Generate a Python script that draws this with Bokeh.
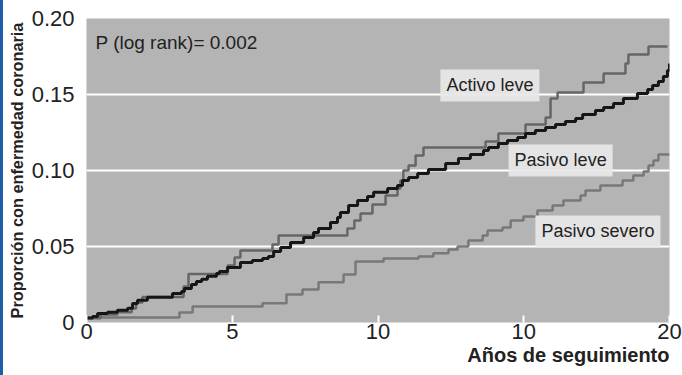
from bokeh.plotting import figure
from bokeh.models import Range1d, FixedTicker, Label, Title, Div
from bokeh.layouts import row
from bokeh.embed import file_html
from bokeh.resources import INLINE

# ---- data ----
x_ticks = [0, 5, 10, 15, 20]
x_tick_labels = ["0", "5", "10", "10", "20"]
y_ticks = [0, 0.05, 0.10, 0.15, 0.20]
y_tick_labels = ["0", "0.05", "0.10", "0.15", "0.20"]

t_activo_leve = [0, 0.48, 1.06, 1.55, 1.70, 1.92, 3.33, 3.50, 4.84, 5.08,
                 5.28, 6.38, 6.59, 8.95, 9.19, 9.40, 9.81, 10.26, 10.67, 10.77,
                 10.87, 11.05, 11.29, 11.56, 13.69, 14.13, 15.06, 15.75, 15.92, 16.16,
                 17.05, 17.74, 18.49, 18.59, 19.28, 19.93]
p_activo_leve = [0.0028, 0.0053, 0.0068, 0.0092, 0.0132, 0.0168, 0.0237, 0.0319, 0.0375, 0.0428,
                 0.0474, 0.0513, 0.0572, 0.0618, 0.0671, 0.0717, 0.0776, 0.0836, 0.0882, 0.0934,
                 0.1000, 0.1033, 0.1099, 0.1151, 0.1191, 0.1243, 0.1303, 0.1349, 0.1474, 0.1513,
                 0.1579, 0.1638, 0.1704, 0.1763, 0.1816, 0.1816]

t_pasivo_leve = [0, 0.21, 0.38, 0.72, 1.06, 1.41, 1.58, 1.75, 2.09, 2.95,
                 3.26, 3.36, 3.60, 3.77, 3.95, 4.15, 4.46, 4.56, 4.84, 5.28,
                 5.69, 6.04, 6.24, 6.42, 6.66, 7.00, 7.45, 7.79, 7.96, 8.37,
                 8.61, 8.71, 8.99, 9.30, 9.64, 9.85, 10.33, 10.67, 10.84, 11.05,
                 11.36, 11.73, 12.32, 12.76, 13.17, 13.62, 13.79, 14.13, 14.44, 14.79,
                 15.06, 15.40, 15.75, 16.09, 16.43, 16.78, 17.02, 17.46, 17.74, 18.08,
                 18.42, 18.90, 19.25, 19.42, 19.62, 19.79, 19.93, 20.0]
p_pasivo_leve = [0.0030, 0.0039, 0.0059, 0.0068, 0.0081, 0.0094, 0.0125, 0.0147, 0.0166, 0.0191,
                 0.0204, 0.0224, 0.0250, 0.0270, 0.0285, 0.0305, 0.0322, 0.0336, 0.0362, 0.0395,
                 0.0408, 0.0421, 0.0434, 0.0467, 0.0493, 0.0526, 0.0559, 0.0592, 0.0618, 0.0658,
                 0.0691, 0.0724, 0.0770, 0.0803, 0.0829, 0.0857, 0.0882, 0.0901, 0.0934, 0.0954,
                 0.0980, 0.1007, 0.1046, 0.1079, 0.1105, 0.1132, 0.1151, 0.1178, 0.1197, 0.1217,
                 0.1243, 0.1263, 0.1283, 0.1303, 0.1322, 0.1342, 0.1368, 0.1395, 0.1414, 0.1441,
                 0.1474, 0.1507, 0.1533, 0.1559, 0.1586, 0.1618, 0.1658, 0.1704]

t_pasivo_severo = [0, 3.19, 3.64, 6.04, 6.86, 7.41, 7.96, 8.82, 9.23, 10.19,
                   11.39, 11.90, 12.42, 12.73, 13.10, 13.59, 13.76, 14.27, 14.55, 14.99,
                   15.47, 15.99, 16.36, 16.95, 17.12, 17.63, 18.39, 18.76, 19.11, 19.28,
                   19.45, 19.62, 20.0]
p_pasivo_severo = [0.0033, 0.0066, 0.0105, 0.0127, 0.0184, 0.0217, 0.0265, 0.0316, 0.0401, 0.0421,
                   0.0434, 0.0456, 0.0480, 0.0500, 0.0539, 0.0572, 0.0605, 0.0625, 0.0671, 0.0697,
                   0.0737, 0.0770, 0.0803, 0.0836, 0.0868, 0.0901, 0.0934, 0.0967, 0.0993, 0.1033,
                   0.1066, 0.1105, 0.1105]

FONT = "Liberation Sans"
TXT = "#222222"

p = figure(width=679, height=375, output_backend="svg", toolbar_location=None,
           x_range=Range1d(0, 20), y_range=Range1d(0, 0.20),
           min_border_left=83, min_border_right=13, min_border_top=18, min_border_bottom=53,
           margin=0)
p.background_fill_color = "#b4b4b4"
p.border_fill_color = "white"
p.outline_line_color = None

# grid
p.xgrid.grid_line_color = None
p.ygrid.ticker = FixedTicker(ticks=[0.05, 0.10, 0.15])
p.ygrid.grid_line_color = "white"
p.ygrid.grid_line_width = 2

# x axis
p.xaxis.ticker = FixedTicker(ticks=x_ticks)
p.xaxis.major_label_overrides = {t: l for t, l in zip(x_ticks, x_tick_labels)}
p.xaxis.axis_line_color = None
p.xaxis.major_tick_in = 7
p.xaxis.major_tick_out = 0
p.xaxis.major_tick_line_color = "white"
p.xaxis.major_tick_line_width = 2
p.xaxis.minor_tick_line_color = None
p.xaxis.major_label_standoff = 1
p.xaxis.major_label_text_font = FONT
p.xaxis.major_label_text_font_size = "22px"
p.xaxis.major_label_text_color = TXT

# y axis
p.yaxis.ticker = FixedTicker(ticks=y_ticks)
p.yaxis.major_label_overrides = {t: l for t, l in zip(y_ticks, y_tick_labels)}
p.yaxis.axis_line_color = None
p.yaxis.major_tick_line_color = None
p.yaxis.minor_tick_line_color = None
p.yaxis.major_label_standoff = 6
p.yaxis.major_label_text_font = FONT
p.yaxis.major_label_text_font_size = "22px"
p.yaxis.major_label_text_color = TXT
p.yaxis.axis_label = "Proporción con enfermedad coronaria"
p.yaxis.axis_label_text_font = FONT
p.yaxis.axis_label_text_font_size = "16.3px"
p.yaxis.axis_label_text_font_style = "bold"
p.yaxis.axis_label_text_color = TXT
p.yaxis.axis_label_standoff = 3

# x axis title (right aligned, below the tick labels)
p.add_layout(Title(text="Años de seguimiento", align="right", text_font=FONT,
                   text_font_size="20px", text_font_style="bold", text_color=TXT,
                   standoff=0, offset=0), "below")

# curves
p.step(t_pasivo_severo, p_pasivo_severo, mode="after", line_color="#787878", line_width=2.5)
p.step(t_activo_leve, p_activo_leve, mode="after", line_color="#666666", line_width=2.5)
p.step(t_pasivo_leve, p_pasivo_leve, mode="after", line_color="#161616", line_width=3)

# annotations
p.add_layout(Label(x=0.31, y=0.184, text="P (log rank)= 0.002", text_font=FONT,
                   text_font_size="19px", text_color=TXT, text_baseline="middle"))
for lx, ly, txt in [(12.14, 0.156, "Activo leve"), (14.48, 0.1066, "Pasivo leve"),
                    (15.40, 0.0599, "Pasivo severo")]:
    p.add_layout(Label(x=lx, y=ly, text=txt, text_font=FONT, text_font_size="18px",
                       text_color=TXT, text_baseline="middle",
                       background_fill_color="#e8e8e8", background_fill_alpha=0.92,
                       padding=6))

# blue left edge of the original picture
edge = Div(width=3, height=375, margin=0, styles={"background-color": "#1f5ea8"})

layout = row(edge, p, spacing=0, margin=0)
open("out.html", "w").write(file_html(layout, INLINE))
